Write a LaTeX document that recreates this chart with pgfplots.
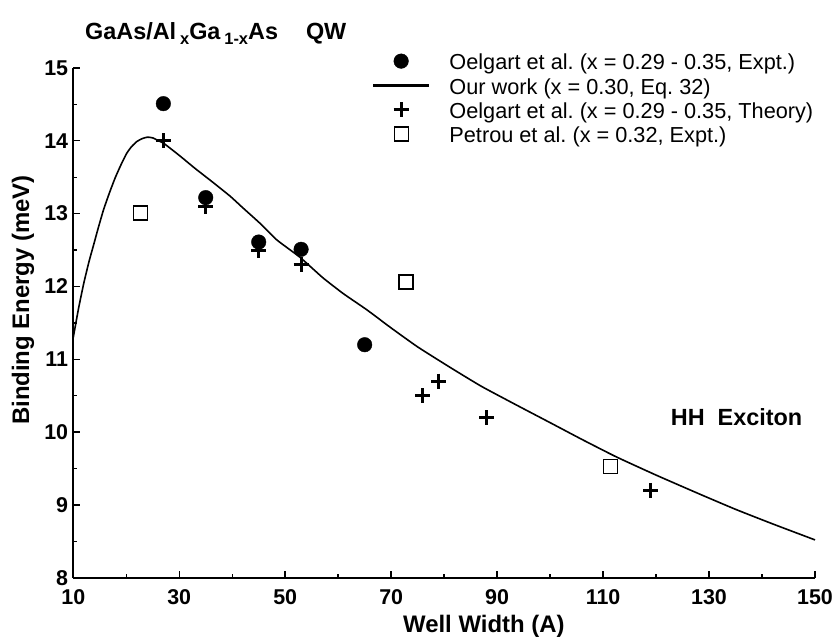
\documentclass[border=0pt]{standalone}
\usepackage{fontspec}
\setmainfont{Liberation Sans}
\usepackage{pgfplots}
\pgfplotsset{compat=1.18}
\frenchspacing
\begin{document}
\begin{tikzpicture}
\begin{axis}[
  scale only axis, width=742bp, height=510bp,
  xmin=10, xmax=150, ymin=8, ymax=15,
  enlargelimits=false, clip=false,
  axis lines=left, axis line style={-, line width=2bp},
  tick align=inside,
  xtick={10,30,...,150}, ytick={8,...,15},
  minor x tick num=1, minor y tick num=1,
  major tick length=7bp, minor tick length=3.8bp,
  tick style={line width=1.4bp, black},
  /pgf/number format/assume math mode=true,
  tick label style={font=\bfseries\fontsize{21.5}{25}\selectfont},
  yticklabel style={inner sep=0pt, xshift=-5bp},
  xticklabel style={inner sep=0pt, yshift=-12bp},
  xlabel={Well Width (A)},
  ylabel={Binding Energy (meV)},
  label style={font=\bfseries\fontsize{24}{28}\selectfont},
  xlabel style={at={(axis description cs:0.5535,0)}, anchor=base, yshift=-55bp},
  ylabel style={at={(axis description cs:-0.0678,0.545)}, anchor=center},
  title={GaAs/Al\,\raisebox{-6bp}{\fontsize{16.5}{16}\selectfont x}Ga\,\raisebox{-6bp}{\fontsize{16.5}{16}\selectfont 1-x}As\hspace{28bp}QW},
  title style={at={(axis description cs:0,1)}, anchor=base west, xshift=11.7bp, yshift=23bp, inner sep=0pt, font=\bfseries\fontsize{23.5}{27}\selectfont},
  legend image code/.code={\draw[mark repeat=2, mark phase=2, #1] plot coordinates {(0bp,4bp)(28bp,4bp)(56bp,4bp)};},
  legend style={draw=none, fill=none, at={(axis description cs:0,1)}, anchor=north west,
    xshift=298.7bp, yshift=15bp, inner sep=0pt, outer sep=0pt,
    font=\fontsize{21.8}{25}\selectfont,
    nodes={inner sep=0pt, text height=17bp, text depth=7.3bp},
    row sep=0pt, column sep=19bp},
  legend cell align=left,
]
\coordinate (ll) at (rel axis cs:0,0);
\coordinate (ur) at (rel axis cs:1,1);
\addplot[only marks, mark=*, mark size=7.3bp, black] coordinates {
  (27,14.51) (35,13.22) (45,12.61) (53,12.51) (65,11.2)
};
\addlegendentry{Oelgart et al. (x = 0.29 - 0.35, Expt.)}
\addplot[black, line width=1.6bp, no marks, smooth, tension=0.3, legend image post style={line width=2.6bp}] coordinates {
  (10,11.30) (11,11.70) (12,12.05) (13,12.35) (13.8,12.56) (14.7,12.80)
  (15.7,13.05) (16.8,13.28) (17.9,13.49) (19,13.67) (20.1,13.83) (21,13.92)
  (22,13.99) (23,14.03) (24,14.05) (25,14.04) (26.4,13.99) (27,13.97)
  (30,13.80) (33,13.62) (36,13.45) (39.6,13.24) (42,13.08) (45.2,12.87)
  (48.4,12.64) (52.8,12.40) (57.1,12.12) (61,11.90) (65.4,11.68) (70,11.43)
  (75,11.17) (81.1,10.89) (87,10.63) (93.7,10.37) (100,10.13) (106,9.90)
  (112.5,9.66) (120,9.41) (128.2,9.15) (135,8.94) (142,8.74) (150,8.52)
};
\addlegendentry{Our work (x = 0.30, Eq. 32)}
\addplot[only marks, mark=+, mark size=7.5bp, line width=3bp, black] coordinates {
  (27,14.0) (35,13.1) (45,12.5) (53,12.3) (76,10.5) (79,10.7) (88,10.2) (119,9.2)
};
\addlegendentry{Oelgart et al. (x = 0.29 - 0.35, Theory)}
\addplot[only marks, mark=square, mark size=7bp, line width=1.3bp, black] coordinates {
  (22.7,13.01) (72.8,12.06) (111.4,9.53)
};
\addlegendentry{Petrou et al. (x = 0.32, Expt.)}
\node[font=\bfseries\fontsize{23.5}{27}\selectfont] at (axis cs:135.2,10.2) {HH\hspace{13bp}Exciton};
\end{axis}
\pgfresetboundingbox
\path[use as bounding box] ([shift={(-73.3bp,-63bp)}]ll) rectangle ([shift={(22bp,68bp)}]ur);
\end{tikzpicture}
\end{document}
